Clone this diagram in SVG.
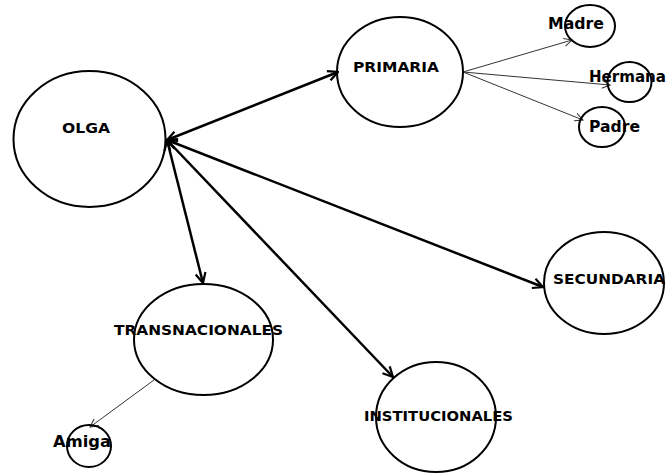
<svg xmlns="http://www.w3.org/2000/svg" width="667" height="473" viewBox="0 0 667 473">
<style>
.node ellipse{fill:none;stroke:#000;stroke-width:2}
.lbl{font-family:"DejaVu Sans","Liberation Sans",sans-serif;font-weight:bold;font-size:14px;fill:#000}
.sm{font-size:15px}
.thick{stroke:#000;stroke-width:2.5;fill:none;marker-start:url(#ah);marker-end:url(#ah)}
.thin{stroke:#333;stroke-width:1;fill:none;marker-end:url(#ahs)}
</style>
<defs>
<marker id="ah" markerUnits="userSpaceOnUse" viewBox="0 0 12 12" refX="11" refY="6" markerWidth="12" markerHeight="12" orient="auto-start-reverse">
<path d="M1,1 L11,6 L1,11" fill="none" stroke="#000" stroke-width="2.2"/>
</marker>
<marker id="ahs" markerUnits="userSpaceOnUse" viewBox="0 0 10 10" refX="9" refY="5" markerWidth="10" markerHeight="10" orient="auto">
<path d="M1,1 L9,5 L1,9" fill="none" stroke="#333" stroke-width="1"/>
</marker>
</defs>
<g id="connectors">
<line class="thick" x1="167" y1="140" x2="338" y2="72"/>
<line class="thick" x1="167" y1="140" x2="203" y2="283"/>
<line class="thick" x1="167" y1="140" x2="393" y2="377"/>
<line class="thick" x1="167" y1="140" x2="543" y2="287"/>
<line class="thin" x1="463" y1="72" x2="572" y2="40"/>
<line class="thin" x1="463" y1="72" x2="610" y2="85"/>
<line class="thin" x1="463" y1="72" x2="583" y2="120"/>
<line class="thin" x1="154" y1="380" x2="90" y2="427"/>
</g>
<g id="olga" class="node"><ellipse cx="89.5" cy="139" rx="76" ry="68"/><text class="lbl" x="62" y="133" textLength="48" lengthAdjust="spacingAndGlyphs">OLGA</text></g>
<g id="primaria" class="node"><ellipse cx="400" cy="72" rx="63" ry="55"/><text class="lbl" x="353" y="72" textLength="86" lengthAdjust="spacingAndGlyphs">PRIMARIA</text></g>
<g id="madre" class="node"><ellipse cx="590" cy="26" rx="25" ry="21"/><text class="lbl sm" x="548" y="29" textLength="56" lengthAdjust="spacingAndGlyphs">Madre</text></g>
<g id="hermana" class="node"><ellipse cx="629.5" cy="82" rx="22" ry="20"/><text class="lbl sm" x="589" y="82" textLength="77" lengthAdjust="spacingAndGlyphs">Hermana</text></g>
<g id="padre" class="node"><ellipse cx="602" cy="127" rx="23" ry="20"/><text class="lbl sm" x="589" y="132" textLength="51" lengthAdjust="spacingAndGlyphs">Padre</text></g>
<g id="transnacionales" class="node"><ellipse cx="203.5" cy="339.5" rx="69.5" ry="55.5"/><text class="lbl" x="114" y="335" textLength="169" lengthAdjust="spacingAndGlyphs">TRANSNACIONALES</text></g>
<g id="amiga" class="node"><ellipse cx="89" cy="446" rx="22" ry="21"/><text class="lbl sm" x="53" y="447" textLength="58" lengthAdjust="spacingAndGlyphs">Amiga</text></g>
<g id="institucionales" class="node"><ellipse cx="436" cy="417" rx="60" ry="55"/><text class="lbl" x="364" y="421" textLength="149" lengthAdjust="spacingAndGlyphs">INSTITUCIONALES</text></g>
<g id="secundaria" class="node"><ellipse cx="604" cy="283" rx="60" ry="51"/><text class="lbl" x="553" y="284" textLength="112" lengthAdjust="spacingAndGlyphs">SECUNDARIA</text></g>
</svg>
